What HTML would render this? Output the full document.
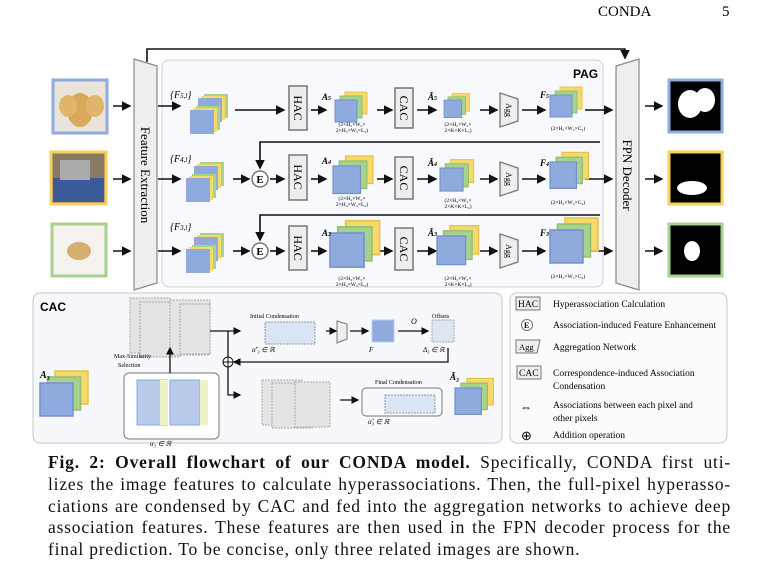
<!DOCTYPE html>
<html><head><meta charset="utf-8"><style>
body{margin:0;background:#fff;width:760px;height:565px;overflow:hidden;position:relative;font-family:"Liberation Serif",serif}
svg{position:absolute;left:0;top:0}
.cap{position:absolute;left:48px;top:452px;width:683px;font-size:17.5px;letter-spacing:0.8px;line-height:21.8px;color:#111}
.cap div{text-align:justify;text-align-last:justify;white-space:nowrap}
.cap div.l{text-align-last:left}
</style></head><body>
<svg width="760" height="565" xmlns="http://www.w3.org/2000/svg" font-family="Liberation Serif, serif">
<defs>
<marker id="ar" markerWidth="6" markerHeight="6" refX="5" refY="3" orient="auto"><path d="M0,0L6,3L0,6z" fill="#111"/></marker>
<g id="cube"><rect x="10" y="-8" width="22" height="22" fill="#f7d86a" stroke="#e7c24a"/><rect x="5" y="-4" width="22" height="22" fill="#a9d18e" stroke="#8fbf70"/><rect x="0" y="0" width="22" height="22" fill="#8faadc" stroke="#7392cc"/></g>
<g id="fst"><rect x="14" y="-10" width="24" height="24" fill="#a9d18e"/><rect x="11" y="-8" width="24" height="24" fill="#f7d86a"/><rect x="8" y="-6" width="24" height="24" fill="#8faadc"/><rect x="6" y="2" width="24" height="24" fill="#a9d18e"/><rect x="3" y="4" width="24" height="24" fill="#f7d86a"/><rect x="0" y="6" width="24" height="24" fill="#8faadc"/></g>
</defs>
<text x="598" y="16" font-size="15">CONDA</text><text x="722" y="16" font-size="15">5</text>
<path d="M147,62V49H625V58" fill="none" stroke="#111" stroke-width="1.6" marker-end="url(#ar)"/>
<rect x="162" y="60" width="441" height="227" rx="7" fill="#f8f9fd" stroke="#d0d0d0"/>
<text x="573" y="78" font-family="Liberation Sans" font-weight="bold" font-size="12">PAG</text>
<path d="M134,59L157,66V283L134,290z" fill="#eee" stroke="#888" stroke-width="1.2"/>
<text transform="translate(141,175) rotate(90)" text-anchor="middle" font-size="13">Feature Extraction</text>
<path d="M616,66L639,59V290L616,283z" fill="#eee" stroke="#888" stroke-width="1.2"/>
<text transform="translate(623,175) rotate(90)" text-anchor="middle" font-size="13">FPN Decoder</text>
<rect x="53" y="80" width="54" height="53" fill="#e9e4da" stroke="#8faadc" stroke-width="3"/>
<ellipse cx="80" cy="110" rx="13" ry="17" fill="#d8a95a"/><ellipse cx="68" cy="106" rx="9" ry="11" fill="#e2b66a"/><ellipse cx="95" cy="106" rx="9" ry="11" fill="#e2b66a"/>
<rect x="51" y="152" width="55" height="52" fill="#8a7a62" stroke="#f7d05a" stroke-width="3"/>
<rect x="53" y="178" width="51" height="24" fill="#3a5a99"/><rect x="60" y="160" width="30" height="20" fill="#aaa"/>
<rect x="52" y="224" width="54" height="52" fill="#f4f1ee" stroke="#a9d18e" stroke-width="3"/>
<ellipse cx="79" cy="251" rx="12" ry="9" fill="#d3b070"/>
<rect x="669" y="80" width="53" height="52" fill="#000" stroke="#8faadc" stroke-width="3"/>
<ellipse cx="690" cy="104" rx="12" ry="14" fill="#fff"/><ellipse cx="705" cy="100" rx="10" ry="12" fill="#fff"/>
<rect x="669" y="152" width="53" height="52" fill="#000" stroke="#f7d05a" stroke-width="3"/>
<ellipse cx="692" cy="188" rx="15" ry="7" fill="#fff"/>
<rect x="669" y="224" width="53" height="52" fill="#000" stroke="#a9d18e" stroke-width="3"/>
<ellipse cx="692" cy="251" rx="8" ry="10" fill="#fff"/>
<g stroke="#111" stroke-width="1.6" fill="none" marker-end="url(#ar)">
<path d="M113,106H130"/><path d="M113,179H130"/><path d="M113,251H130"/>
<path d="M158,106H180"/><path d="M158,179H180"/><path d="M158,251H180"/>
<path d="M645,106H662"/><path d="M645,179H662"/><path d="M645,251H662"/>
<path d="M235,110H284"/><path d="M233,179H249"/><path d="M233,251H249"/>
<path d="M270,179H284"/><path d="M270,251H284"/>
<path d="M311,110H326"/><path d="M311,179H326"/><path d="M311,251H326"/>
<path d="M377,110H392"/><path d="M377,179H392"/><path d="M377,251H392"/>
<path d="M417,110H436"/><path d="M417,179H436"/><path d="M417,251H436"/>
<path d="M480,110H497"/><path d="M480,179H497"/><path d="M480,251H497"/>
<path d="M522,110H545"/><path d="M522,179H545"/><path d="M522,251H545"/>
<path d="M585,110H612"/><path d="M585,179H612"/><path d="M585,251H612"/>
<path d="M600,142H260V168"/><path d="M600,215H260V240"/>
</g>
<use href="#fst" x="190" y="104"/><use href="#fst" x="186" y="172"/><use href="#fst" x="186" y="243"/>
<text x="170" y="98" font-size="10" font-style="italic">{F<tspan font-size="7">5,l</tspan>}</text>
<text x="170" y="162" font-size="10" font-style="italic">{F<tspan font-size="7">4,l</tspan>}</text>
<text x="170" y="230" font-size="10" font-style="italic">{F<tspan font-size="7">3,l</tspan>}</text>
<g font-size="11" font-weight="bold" text-anchor="middle"><circle cx="260" cy="179" r="8" fill="#fff" stroke="#777" stroke-width="1.5"/><text x="260" y="183">E</text>
<circle cx="260" cy="251" r="8" fill="#fff" stroke="#777" stroke-width="1.5"/><text x="260" y="255">E</text></g>
<g fill="#eee" stroke="#777" stroke-width="1.5"><rect x="289" y="86" width="18" height="44"/><rect x="289" y="155" width="18" height="45"/><rect x="289" y="226" width="18" height="44"/>
<rect x="395" y="88" width="18" height="40"/><rect x="395" y="157" width="18" height="42"/><rect x="395" y="228" width="18" height="42"/></g>
<g font-size="12" text-anchor="middle"><text transform="translate(294,108) rotate(90)">HAC</text><text transform="translate(294,177) rotate(90)">HAC</text><text transform="translate(294,248) rotate(90)">HAC</text>
<text transform="translate(400,108) rotate(90)">CAC</text><text transform="translate(400,178) rotate(90)">CAC</text><text transform="translate(400,249) rotate(90)">CAC</text></g>
<g fill="#eee" stroke="#777" stroke-width="1.3"><path d="M500,93L518,99V121L500,127z"/><path d="M500,162L518,168V190L500,196z"/><path d="M500,234L518,240V262L500,268z"/></g>
<g font-size="8" text-anchor="middle"><text transform="translate(506,110) rotate(90)">Agg</text><text transform="translate(506,179) rotate(90)">Agg</text><text transform="translate(506,251) rotate(90)">Agg</text></g>
<use href="#cube" x="335" y="100"/><use href="#cube" transform="translate(333,166) scale(1.25)"/><use href="#cube" transform="translate(330,233) scale(1.55)"/>
<use href="#cube" transform="translate(444,100) scale(0.8)"/><use href="#cube" transform="translate(440,168) scale(1.05)"/><use href="#cube" transform="translate(437,236) scale(1.3)"/>
<use href="#cube" transform="translate(550,95) scale(1.0)"/><use href="#cube" transform="translate(550,162) scale(1.2)"/><use href="#cube" transform="translate(550,230) scale(1.5)"/>
<g font-size="9" font-weight="bold" font-style="italic"><text x="322" y="100">A<tspan font-size="6">5</tspan></text><text x="322" y="164">A<tspan font-size="6">4</tspan></text><text x="322" y="236">A<tspan font-size="6">3</tspan></text>
<text x="428" y="100">Ã<tspan font-size="6">5</tspan></text><text x="428" y="166">Ã<tspan font-size="6">4</tspan></text><text x="428" y="236">Ã<tspan font-size="6">3</tspan></text>
<text x="540" y="98">F<tspan font-size="6">5</tspan></text><text x="540" y="166">F<tspan font-size="6">4</tspan></text><text x="540" y="236">F<tspan font-size="6">3</tspan></text></g>
<g font-size="5.5" text-anchor="middle"><text x="352" y="126">(2×H₅×W₅×</text><text x="352" y="132">2×H₅×W₅×L₅)</text>
<text x="352" y="200">(2×H₄×W₄×</text><text x="352" y="206">2×H₄×W₄×L₄)</text>
<text x="352" y="280">(2×H₃×W₃×</text><text x="352" y="286">2×H₃×W₃×L₃)</text>
<text x="458" y="126">(2×H₅×W₅×</text><text x="458" y="132">2×K×K×L₅)</text>
<text x="458" y="202">(2×H₄×W₄×</text><text x="458" y="208">2×K×K×L₄)</text>
<text x="458" y="280">(2×H₃×W₃×</text><text x="458" y="286">2×K×K×L₃)</text>
<text x="568" y="130">(2×H₅×W₅×C₅)</text><text x="568" y="204">(2×H₄×W₄×C₄)</text><text x="568" y="278">(2×H₃×W₃×C₃)</text></g>
<rect x="33" y="293" width="469" height="150" rx="7" fill="#f7f8fb" stroke="#c8c8c8"/>
<text x="40" y="311" font-family="Liberation Sans" font-weight="bold" font-size="12">CAC</text>
<g fill="#e4e4e4" stroke="#aaa" stroke-dasharray="2,1"><rect x="130" y="298" width="40" height="55"/><rect x="140" y="302" width="40" height="55"/><rect x="170" y="300" width="40" height="55"/><rect x="180" y="304" width="30" height="50"/>
<rect x="262" y="380" width="40" height="45"/><rect x="272" y="383" width="40" height="45"/><rect x="295" y="382" width="35" height="45"/></g>
<rect x="124" y="373" width="95" height="66" rx="5" fill="#fff" stroke="#777"/>
<g fill="#b9cbeb" stroke="#8faadc"><rect x="137" y="380" width="30" height="45"/><rect x="170" y="380" width="30" height="45"/></g>
<g fill="#eef3c8"><rect x="160" y="380" width="8" height="45"/><rect x="200" y="380" width="8" height="45"/></g>
<use href="#cube" transform="translate(40,383) scale(1.5)"/>
<text x="40" y="378" font-size="10" font-style="italic" font-weight="bold">A₃</text>
<text x="114" y="358" font-size="6">Max-Similarity</text><text x="118" y="367" font-size="6">Selection</text>
<text x="150" y="446" font-size="7" font-style="italic">α₃ ∈ ℝ</text>
<g fill="#d9e5f5" stroke="#999" stroke-dasharray="2,1"><rect x="265" y="322" width="50" height="22"/><rect x="385" y="395" width="50" height="18"/></g>
<rect x="362" y="388" width="80" height="28" rx="4" fill="none" stroke="#777"/>
<text x="250" y="318" font-size="6">Initial Condensation</text><text x="375" y="384" font-size="6">Final Condensation</text>
<text x="252" y="352" font-size="7" font-style="italic">α̃′₃ ∈ ℝ</text><text x="368" y="424" font-size="7" font-style="italic">α̃₃ ∈ ℝ</text>
<path d="M337,321L347,324V339L337,343z" fill="#eee" stroke="#777"/>
<rect x="372" y="320" width="22" height="22" fill="#8faadc" stroke="#b9cbeb"/>
<text x="369" y="352" font-size="7" font-style="italic">F</text><text x="411" y="324" font-size="8" font-style="italic">O</text>
<text x="432" y="318" font-size="6">Offsets</text><rect x="432" y="320" width="22" height="22" fill="#dde6f3" stroke="#aaa" stroke-dasharray="2,1"/>
<text x="423" y="352" font-size="7" font-style="italic">Δ₃ ∈ ℝ</text>
<text x="450" y="380" font-size="9" font-style="italic" font-weight="bold">Ã₃</text>
<use href="#cube" transform="translate(455,388) scale(1.2)"/>
<g stroke="#111" stroke-width="1.3" fill="none" marker-end="url(#ar)">
<path d="M210,331H240"/><path d="M228,331V395H240"/><path d="M326,331H336"/><path d="M350,331H368"/><path d="M398,331H428"/>
<path d="M448,348V362H234"/><path d="M170,373V348"/><path d="M340,400H358"/>
</g>
<circle cx="228" cy="362" r="5" fill="#fff" stroke="#111"/><path d="M223,362H233M228,357V367" stroke="#111"/>
<rect x="510" y="293" width="217" height="150" rx="7" fill="#fbfbfb" stroke="#c8c8c8"/>
<g font-size="9.5"><rect x="516" y="297" width="24" height="13" fill="#eee" stroke="#777"/><text x="518" y="307">HAC</text><text x="553" y="307">Hyperassociation Calculation</text>
<circle cx="527" cy="325" r="5.5" fill="#fff" stroke="#777"/><text x="524" y="328" font-size="8" font-weight="bold">E</text><text x="553" y="328">Association-induced Feature Enhancement</text>
<path d="M516,340H540L537,353H516z" fill="#eee" stroke="#777"/><text x="519" y="350" font-size="8.5">Agg</text><text x="553" y="350">Aggregation Network</text>
<rect x="517" y="366" width="24" height="13" fill="#eee" stroke="#777"/><text x="519" y="376">CAC</text><text x="553" y="376">Correspondence-induced Association</text><text x="553" y="389">Condensation</text>
<text x="520" y="411" font-size="12">⇔</text><text x="553" y="408">Associations between each pixel and</text><text x="553" y="421">other pixels</text>
<text x="521" y="440" font-size="13">⊕</text><text x="553" y="438">Addition operation</text></g>
</svg>
<div class="cap">
<div><b>Fig. 2: Overall flowchart of our CONDA model.</b> Specifically, CONDA first uti-</div>
<div>lizes the image features to calculate hyperassociations. Then, the full-pixel hyperasso-</div>
<div>ciations are condensed by CAC and fed into the aggregation networks to achieve deep</div>
<div>association features. These features are then used in the FPN decoder process for the</div>
<div class="l">final prediction. To be concise, only three related images are shown.</div>
</div>
</body></html>
